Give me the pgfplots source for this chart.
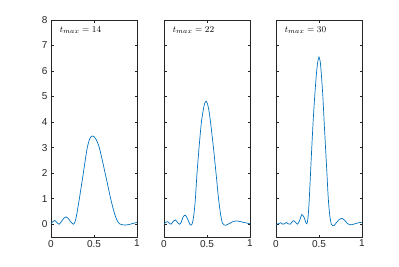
\documentclass[border=0pt]{standalone}
\usepackage[no-math]{fontspec}
\setmainfont{Liberation Sans}
\usepackage{pgfplots}
\pgfplotsset{compat=1.18}
\definecolor{mlblue}{RGB}{0,114,189}
\definecolor{mlgray}{RGB}{38,38,38}
\pgfplotsset{panel/.style={
  anchor=south west, scale only axis, width=86pt, height=217pt,
  xmin=0, xmax=1, ymin=-0.5, ymax=8,
  xtick={0,0.5,1}, ytick={0,1,...,8},
  xticklabels={0,0.5,1},
  tick align=inside, major tick length=2.5pt,
  axis line style={mlgray, line width=0.5pt},
  tick style={mlgray, line width=0.5pt},
  tick label style={font=\fontsize{10}{12}\selectfont, text=mlgray},
  xticklabel style={yshift=0.5pt},
  clip=true,
}}
\begin{document}
\begin{tikzpicture}[x=1pt,y=1pt]
\useasboundingbox (0,0) rectangle (399,266);
\begin{axis}[panel, at={(51pt,29pt)}, yticklabels={0,1,2,3,4,5,6,7,8}]
\addplot[mlblue, line width=0.7pt, smooth, tension=0.4] coordinates {
(0,0.02) (0.02,0.1) (0.045,0.15) (0.07,0.06) (0.095,0.0) (0.12,0.1) (0.15,0.24) (0.175,0.29) (0.2,0.23) (0.23,0.09) (0.26,0.0) (0.28,0.1) (0.30,0.4) (0.33,1.0) (0.355,1.55) (0.376,2.0) (0.40,2.55) (0.422,3.0) (0.445,3.3) (0.465,3.43) (0.484,3.46) (0.505,3.42) (0.525,3.32) (0.545,3.17) (0.562,3.0) (0.58,2.75) (0.605,2.38) (0.628,2.02) (0.66,1.53) (0.694,1.0) (0.725,0.58) (0.752,0.28) (0.78,0.08) (0.80,0.01) (0.83,-0.02) (0.87,-0.03) (0.91,-0.01) (0.95,0.03) (1.0,0.07)
};
\node[anchor=west, font=\fontsize{9.5}{11}\selectfont, inner sep=0pt] at (axis cs:0.1,7.6) {$t_{max}=14$};
\end{axis}
\begin{axis}[panel, at={(164pt,29pt)}, yticklabels={}]
\addplot[mlblue, line width=0.7pt, smooth, tension=0.4] coordinates {
(0,0.02) (0.02,0.08) (0.04,0.1) (0.06,0.05) (0.08,0.0) (0.105,0.1) (0.13,0.17) (0.155,0.08) (0.18,0.0) (0.2,0.08) (0.225,0.3) (0.25,0.35) (0.275,0.2) (0.305,-0.03) (0.325,0.0) (0.337,0.15) (0.35,0.45) (0.365,1.0) (0.384,2.0) (0.41,3.1) (0.435,4.0) (0.46,4.55) (0.475,4.75) (0.49,4.82) (0.505,4.72) (0.52,4.5) (0.541,4.0) (0.575,3.0) (0.608,1.9) (0.631,1.1) (0.655,0.45) (0.678,0.05) (0.70,-0.03) (0.72,-0.04) (0.76,0.03) (0.80,0.1) (0.84,0.13) (0.88,0.11) (0.93,0.07) (1.0,0.02)
};
\node[anchor=west, font=\fontsize{9.5}{11}\selectfont, inner sep=0pt] at (axis cs:0.1,7.6) {$t_{max}=22$};
\end{axis}
\begin{axis}[panel, at={(276pt,29pt)}, yticklabels={}]
\addplot[mlblue, line width=0.7pt, smooth, tension=0.4] coordinates {
(0,0.0) (0.03,0.02) (0.055,0.06) (0.08,0.0) (0.1,0.02) (0.12,0.07) (0.14,0.02) (0.165,0.0) (0.2,0.14) (0.225,0.08) (0.25,0.0) (0.275,0.15) (0.30,0.38) (0.325,0.28) (0.35,0.04) (0.36,0.02) (0.372,0.25) (0.384,0.8) (0.40,1.9) (0.416,3.0) (0.433,4.1) (0.45,5.0) (0.47,5.9) (0.485,6.35) (0.5,6.55) (0.515,6.35) (0.53,5.75) (0.545,5.0) (0.56,4.0) (0.576,3.0) (0.592,2.0) (0.608,1.0) (0.625,0.35) (0.643,0.0) (0.66,-0.06) (0.675,-0.05) (0.70,0.05) (0.73,0.17) (0.765,0.23) (0.80,0.15) (0.83,0.03) (0.86,-0.02) (0.9,0.0) (0.95,0.05) (1.0,0.08)
};
\node[anchor=west, font=\fontsize{9.5}{11}\selectfont, inner sep=0pt] at (axis cs:0.1,7.6) {$t_{max}=30$};
\end{axis}
\end{tikzpicture}
\end{document}
